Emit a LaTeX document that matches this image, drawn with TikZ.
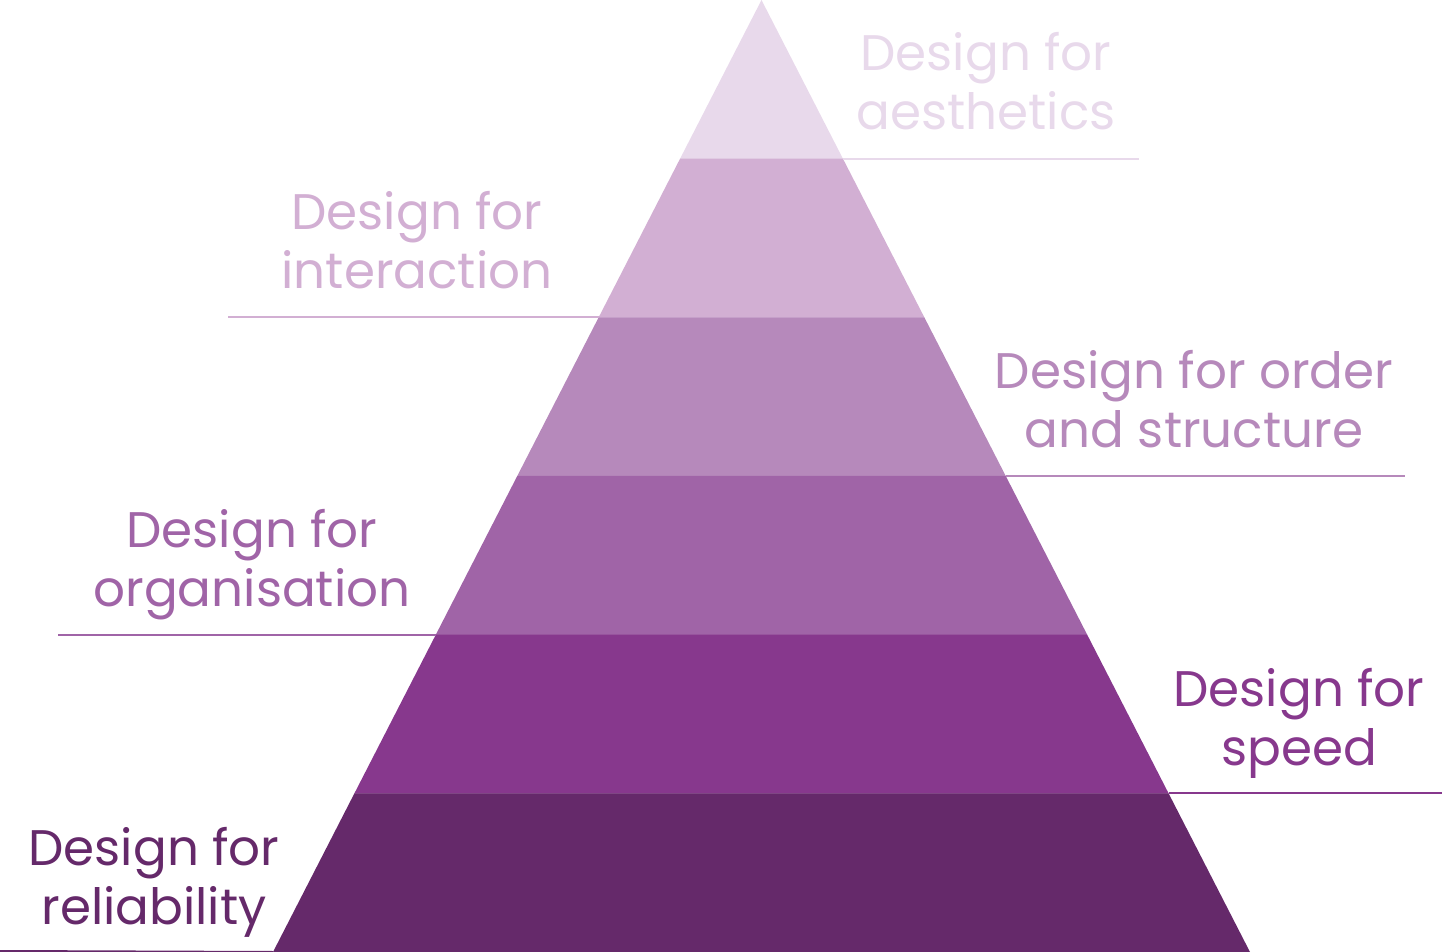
\documentclass[tikz,border=0pt]{standalone}
\usepackage{fontspec}
\setmainfont{Poppins}
\usetikzlibrary{calc}

\definecolor{tierA}{HTML}{E8D9EB}
\definecolor{tierB}{HTML}{D2AFD3}
\definecolor{tierC}{HTML}{B689BB}
\definecolor{tierD}{HTML}{A064A7}
\definecolor{tierE}{HTML}{87388D}
\definecolor{tierF}{HTML}{65296A}

\tikzset{
	tierlabel/.style={align=center, anchor=base, inner sep=0pt, font=\fontsize{25}{29.5}\selectfont},
	tierrule/.style={line width=1pt}
}

\begin{document}
\begin{tikzpicture}[x=0.5pt,y=-0.5pt]
		\useasboundingbox (0,0) rectangle (1442,952);
		
		%pyramid layers
		\foreach \col [count=\n from 0] in {tierA,tierB,tierC,tierD,tierE,tierF}{
			\pgfmathsetmacro\ya{952*\n/6}
			\pgfmathsetmacro\yb{952*(\n+1)/6+0.4}
			\fill[\col] ({761.5-0.51313*\ya},\ya) -- ({761.5+0.51313*\ya},\ya) -- ({761.5+0.51313*\yb},\yb) -- ({761.5-0.51313*\yb},\yb) -- cycle;
		}
		
		%edge points
		\coordinate (edgeA) at (842.9,158.7);
		\coordinate (edgeB) at (598.7,317.3);
		\coordinate (edgeC) at (1005.8,476);
		\coordinate (edgeD) at (436,634.7);
		\coordinate (edgeE) at (1168.6,793.3);
		\coordinate (edgeF) at (273,952);
		
		%rule ends
		\coordinate (endA) at (1139,158.7);
		\coordinate (endB) at (228,317.3);
		\coordinate (endC) at (1405,476);
		\coordinate (endD) at (58,634.7);
		\coordinate (endE) at (1442,793.3);
		\coordinate (endF) at (0,951);
		
		%rules
		\draw[tierrule,tierA] (edgeA) -- (endA);
		\draw[tierrule,tierB] (edgeB) -- (endB);
		\draw[tierrule,tierC] (edgeC) -- (endC);
		\draw[tierrule,tierD] (edgeD) -- (endD);
		\draw[tierrule,tierE] (edgeE) -- (endE);
		\draw[tierrule,tierF] (edgeF) -- (endF);
		
		%labels
		\node[tierlabel,text=tierA] (aesthetics) at (986,130) {Design for\\aesthetics};
		\node[tierlabel,text=tierB] (interaction) at (417,289) {Design for\\interaction};
		\node[tierlabel,text=tierC] (order) at (1194,448) {Design for order\\and structure};
		\node[tierlabel,text=tierD] (organisation) at (252,606) {Design for\\organisation};
		\node[tierlabel,text=tierE] (speed) at (1299,765) {Design for\\speed};
		\node[tierlabel,text=tierF] (reliability) at (154,924) {Design for\\reliability};
		
\end{tikzpicture}
\end{document}
